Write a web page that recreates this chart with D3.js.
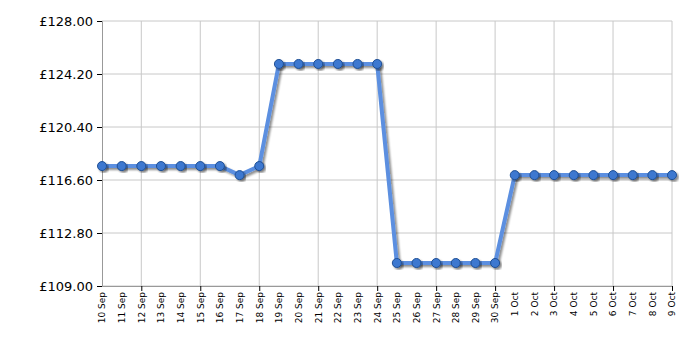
<!DOCTYPE html>
<html>
<head>
<meta charset="utf-8">
<script src="https://cdn.jsdelivr.net/npm/d3@7"></script>
<style>
  body { margin: 0; background: #fff; }
  svg text { font-family: "DejaVu Sans", Verdana, sans-serif; fill: #000; }
</style>
</head>
<body>
<svg id="chart" width="700" height="350"></svg>
<script>
const dates = [
  '10 Sep', '11 Sep', '12 Sep', '13 Sep', '14 Sep', '15 Sep', '16 Sep', '17 Sep', '18 Sep', '19 Sep',
  '20 Sep', '21 Sep', '22 Sep', '23 Sep', '24 Sep', '25 Sep', '26 Sep', '27 Sep', '28 Sep', '29 Sep',
  '30 Sep', '1 Oct', '2 Oct', '3 Oct', '4 Oct', '5 Oct', '6 Oct', '7 Oct', '8 Oct', '9 Oct'
]
const prices = [
  117.60, 117.60, 117.60, 117.60, 117.60, 117.60, 117.60, 116.95, 117.60, 124.92,
  124.92, 124.92, 124.92, 124.92, 124.92, 110.65, 110.65, 110.65, 110.65, 110.65,
  110.65, 116.95, 116.95, 116.95, 116.95, 116.95, 116.95, 116.95, 116.95, 116.95
]
const yTicks = [109.00, 112.80, 116.60, 120.40, 124.20, 128.00]

const margin = { top: 21, right: 28, bottom: 64, left: 102 }
const width = 700 - margin.left - margin.right
const height = 350 - margin.top - margin.bottom

const svg = d3.select('#chart')
const defs = svg.append('defs')
const shadow = defs.append('filter').attr('id', 'shadow')
  .attr('x', '-20%').attr('y', '-20%').attr('width', '140%').attr('height', '140%')
shadow.append('feGaussianBlur').attr('in', 'SourceAlpha').attr('stdDeviation', 1.2)
shadow.append('feOffset').attr('dx', 2).attr('dy', 2).attr('result', 'off')
shadow.append('feComponentTransfer').append('feFuncA').attr('type', 'linear').attr('slope', 0.45)
const merge = shadow.append('feMerge')
merge.append('feMergeNode')
merge.append('feMergeNode').attr('in', 'SourceGraphic')

const g = svg.append('g').attr('transform', `translate(${margin.left},${margin.top})`)

const x = d3.scalePoint().domain(dates).range([0, width])
const y = d3.scaleLinear().domain([109, 128]).range([height, 0])

// grid
g.append('g').selectAll('line')
  .data(yTicks)
  .enter().append('line')
  .attr('x1', 0).attr('x2', width)
  .attr('y1', (d) => y(d)).attr('y2', (d) => y(d))
  .attr('stroke', '#c8c8c8')

const gridDates = dates.filter((d, i) => i % 3 === 2)
g.append('g').selectAll('line')
  .data(gridDates)
  .enter().append('line')
  .attr('x1', (d) => x(d)).attr('x2', (d) => x(d))
  .attr('y1', 0).attr('y2', height)
  .attr('stroke', '#c8c8c8')

// axes
const yAxis = d3.axisLeft(y)
  .tickValues(yTicks)
  .tickSize(5)
  .tickPadding(4)
  .tickFormat((d) => '£' + d.toFixed(2))
const yg = g.append('g').call(yAxis)
yg.select('.domain').attr('stroke', '#999')
yg.selectAll('.tick line').attr('stroke', '#000')
yg.selectAll('text').style('font-size', '13px')

const xAxis = d3.axisBottom(x).tickSize(0).tickPadding(0)
const xg = g.append('g').attr('transform', `translate(0,${height})`).call(xAxis)
xg.select('.domain').attr('stroke', '#999')
xg.selectAll('.tick line').remove()
xg.selectAll('.tick text')
  .attr('transform', 'rotate(-90)')
  .attr('x', -6).attr('y', 0).attr('dy', '0.32em')
  .style('text-anchor', 'end')
  .style('font-size', '9px')
xg.selectAll('.tick')
  .filter((d) => gridDates.includes(d))
  .append('line')
  .attr('y1', 0).attr('y2', 5)
  .attr('stroke', '#000')

// line
const line = d3.line()
  .x((d, i) => x(dates[i]))
  .y((d) => y(d))

g.append('path')
  .datum(prices)
  .attr('d', line)
  .attr('fill', 'none')
  .attr('stroke', '#5b8fe0')
  .attr('stroke-width', 4)
  .attr('stroke-linejoin', 'round')
  .attr('filter', 'url(#shadow)')

g.append('g').selectAll('circle')
  .data(prices)
  .enter().append('circle')
  .attr('cx', (d, i) => x(dates[i]))
  .attr('cy', (d) => y(d))
  .attr('r', 4.5)
  .attr('fill', '#3d78d0')
  .attr('stroke', '#1f4f94')
  .attr('stroke-width', 1)
  .attr('filter', 'url(#shadow)')
</script>
</body>
</html>
